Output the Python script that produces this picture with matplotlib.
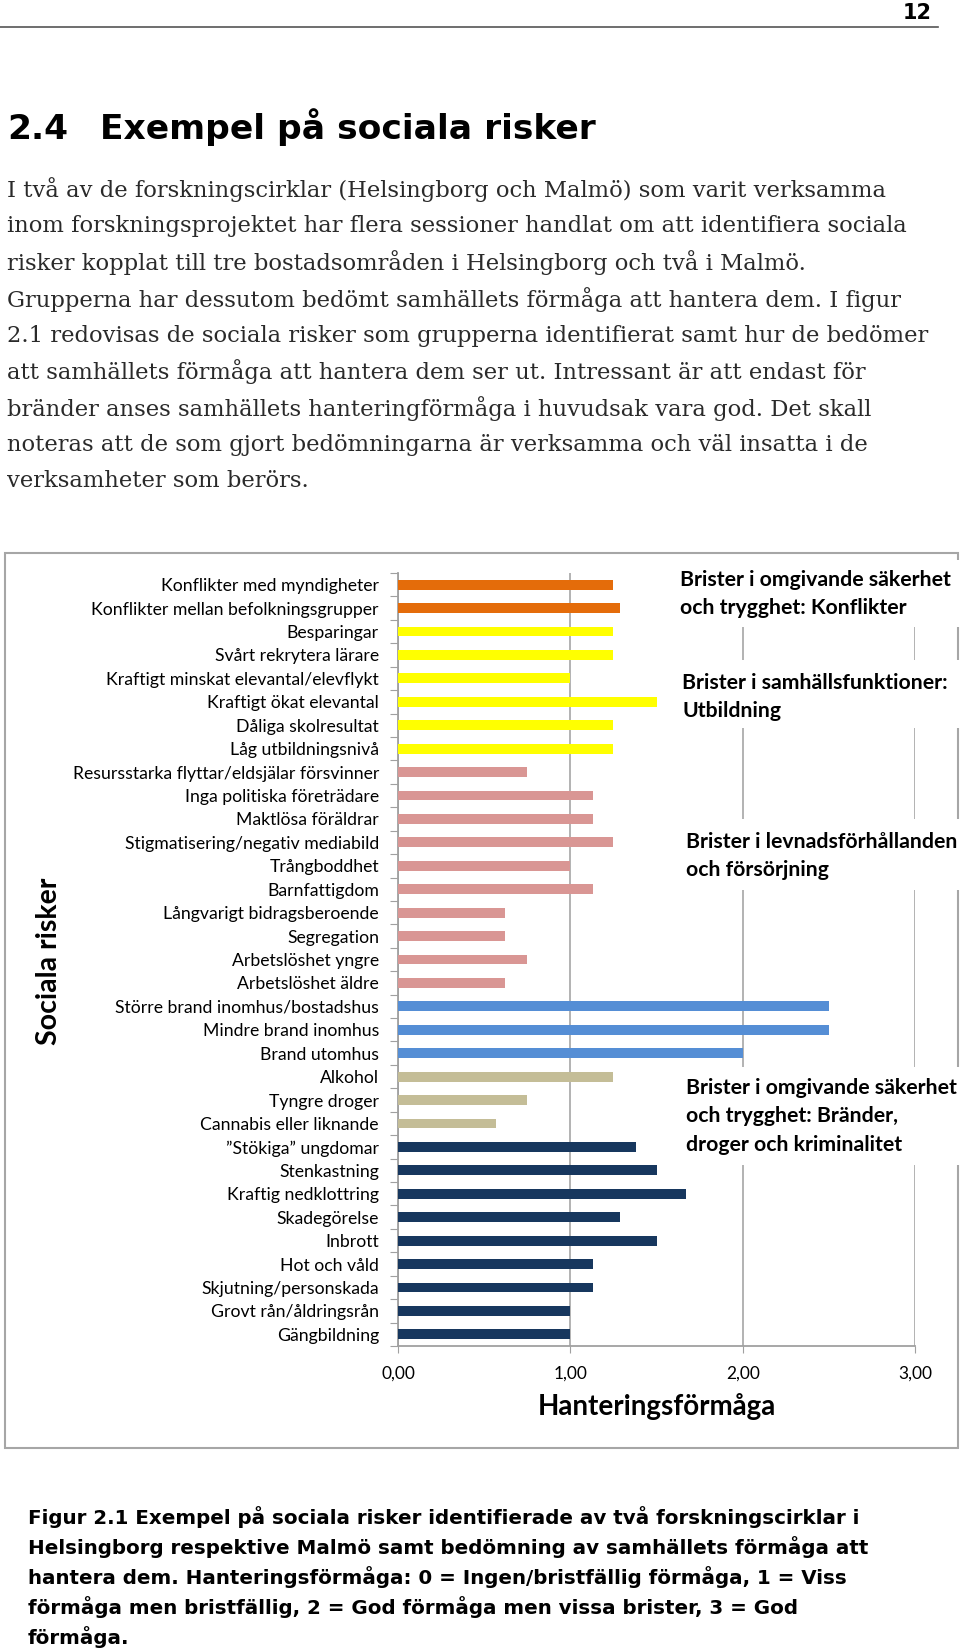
import matplotlib
matplotlib.use("Agg")
import matplotlib.pyplot as plt
from matplotlib.patches import Rectangle
from matplotlib.lines import Line2D
import numpy as np

# ---------------- data ----------------
categories = [
    "Konflikter med myndigheter",
    "Konflikter mellan befolkningsgrupper",
    "Besparingar",
    "Svårt rekrytera lärare",
    "Kraftigt minskat elevantal/elevflykt",
    "Kraftigt ökat elevantal",
    "Dåliga skolresultat",
    "Låg utbildningsnivå",
    "Resursstarka flyttar/eldsjälar försvinner",
    "Inga politiska företrädare",
    "Maktlösa föräldrar",
    "Stigmatisering/negativ mediabild",
    "Trångboddhet",
    "Barnfattigdom",
    "Långvarigt bidragsberoende",
    "Segregation",
    "Arbetslöshet yngre",
    "Arbetslöshet äldre",
    "Större brand inomhus/bostadshus",
    "Mindre brand inomhus",
    "Brand utomhus",
    "Alkohol",
    "Tyngre droger",
    "Cannabis eller liknande",
    "\u201dStökiga\u201d ungdomar",
    "Stenkastning",
    "Kraftig nedklottring",
    "Skadegörelse",
    "Inbrott",
    "Hot och våld",
    "Skjutning/personskada",
    "Grovt rån/åldringsrån",
    "Gängbildning",
]
values = [1.25, 1.29, 1.25, 1.25, 1.00, 1.50, 1.25, 1.25,
          0.75, 1.13, 1.13, 1.25, 1.00, 1.13, 0.62, 0.62, 0.75, 0.62,
          2.50, 2.50, 2.00,
          1.25, 0.75, 0.57,
          1.38, 1.50, 1.67, 1.29, 1.50, 1.13, 1.13, 1.00, 1.00]
groups = (["konflikter"] * 2 + ["utbildning"] * 6 + ["levnad"] * 10 +
          ["brand"] * 3 + ["droger"] * 3 + ["krim"] * 9)
xticks = [0, 1, 2, 3]
xticklabels = ["0,00", "1,00", "2,00", "3,00"]
group_labels = [
    ["Brister i omgivande säkerhet", "och trygghet: Konflikter"],
    ["Brister i samhällsfunktioner:", "Utbildning"],
    ["Brister i levnadsförhållanden", "och försörjning"],
    ["Brister i omgivande säkerhet", "och trygghet: Bränder,", "droger och kriminalitet"],
]
body_lines = [
    "I två av de forskningscirklar (Helsingborg och Malmö) som varit verksamma",
    "inom forskningsprojektet har flera sessioner handlat om att identifiera sociala",
    "risker kopplat till tre bostadsområden i Helsingborg och två i Malmö.",
    "Grupperna har dessutom bedömt samhällets förmåga att hantera dem. I figur",
    "2.1 redovisas de sociala risker som grupperna identifierat samt hur de bedömer",
    "att samhällets förmåga att hantera dem ser ut. Intressant är att endast för",
    "bränder anses samhällets hanteringförmåga i huvudsak vara god. Det skall",
    "noteras att de som gjort bedömningarna är verksamma och väl insatta i de",
    "verksamheter som berörs.",
]
caption_lines = [
    "Figur 2.1 Exempel på sociala risker identifierade av två forskningscirklar i",
    "Helsingborg respektive Malmö samt bedömning av samhällets förmåga att",
    "hantera dem. Hanteringsförmåga: 0 = Ingen/bristfällig förmåga, 1 = Viss",
    "förmåga men bristfällig, 2 = God förmåga men vissa brister, 3 = God",
    "förmåga.",
]

# ---------------- styles ----------------
group_colors = {
    "konflikter": "#E46C0A",
    "utbildning": "#FFFF00",
    "levnad": "#D99694",
    "brand": "#558ED5",
    "droger": "#C4BD97",
    "krim": "#17375E",
}
W, H = 960, 1650
def fx(px):
    return px / W
def fy(py):
    return 1 - py / H

fig = plt.figure(figsize=(9.6, 16.5), dpi=100)
fig.patch.set_facecolor("white")

SANS = ["Lato", "DejaVu Sans"]

# page header
fig.add_artist(Line2D([fx(0), fx(938)], [fy(27), fy(27)], color="#555555", lw=1.2))
fig.text(fx(932), fy(13), "12", ha="right", va="center", fontsize=15,
         fontweight="bold", family=["DejaVu Sans"], color="black")

# heading
fig.text(fx(7), fy(139), "2.4", ha="left", va="baseline", fontsize=24.8,
         fontweight="bold", family=["DejaVu Sans"], color="black")
fig.text(fx(100), fy(139), "Exempel på sociala risker", ha="left", va="baseline",
         fontsize=24.8, fontweight="bold", family=["DejaVu Sans"], color="black")

# body text
for i, line in enumerate(body_lines):
    fig.text(fx(7), fy(190 + i * 36.4), line, ha="left", va="center",
             fontsize=16.3, family=["DejaVu Serif"], color="#2a2a2a")

# chart frame
fig.add_artist(Rectangle((fx(5), fy(1448)), fx(958) - fx(5), (1448 - 553) / H,
                         transform=fig.transFigure, fill=False,
                         edgecolor="#A6A6A6", lw=1.5, zorder=-1))

# axes
ax = fig.add_axes([fx(398), fy(1346), fx(915) - fx(398), (1346 - 573) / H])
ax.set_facecolor("none")
y = np.arange(len(categories))
colors = [group_colors[g] for g in groups]
ax.barh(y, values, height=0.42, color=colors, zorder=3)
ax.set_xlim(0, 3)
ax.set_ylim(len(categories) - 0.5, -0.5)

for s in ["top", "right"]:
    ax.spines[s].set_visible(False)
for s in ["left", "bottom"]:
    ax.spines[s].set_color("#A0A0A0")
    ax.spines[s].set_linewidth(1.3)

ax.set_xticks(xticks)
ax.set_xticklabels(xticklabels, family=SANS, fontsize=12.5)
ax.tick_params(axis="x", direction="out", length=5, color="#A0A0A0", pad=9)
ax.xaxis.grid(True, color="#A6A6A6", lw=1.2, zorder=0)
ax.set_axisbelow(True)

ax.set_yticks(np.arange(-0.5, len(categories), 1.0))
ax.set_yticklabels([])
ax.set_yticks(y, minor=True)
ax.set_yticklabels(categories, minor=True, family=SANS, fontsize=12.7)
ax.tick_params(axis="y", which="major", direction="out", length=6, color="#A0A0A0")
ax.tick_params(axis="y", which="minor", length=0, pad=13.7)

# axis titles
fig.text(fx(657), fy(1407), "Hanteringsförmåga", ha="center", va="center",
         fontsize=20, fontweight="bold", family=SANS, color="black")
fig.text(fx(49), fy(961), "Sociala risker", ha="center", va="center",
         rotation=90, fontsize=20.5, fontweight="bold", family=SANS, color="black")

# group annotation boxes (white boxes covering gridlines)
box_ranges = [(560, 627), (660, 728), (819, 890), (1067, 1165)]
line_y0 = [580, 683, 842, 1088]
text_left = [680, 682, 686, 686]
for (y0, y1), ty, tx, lab in zip(box_ranges, line_y0, text_left, group_labels):
    fig.add_artist(Rectangle((fx(672), fy(y1)), fx(960) - fx(672), (y1 - y0) / H,
                             transform=fig.transFigure, facecolor="white",
                             edgecolor="none", zorder=5))
    for j, ln in enumerate(lab):
        fig.text(fx(tx), fy(ty + j * 28.5), ln, ha="left", va="center",
                 fontsize=15.3, fontweight="bold", family=SANS, color="black",
                 zorder=6)

# caption
for i, line in enumerate(caption_lines):
    fig.text(fx(28), fy(1517 + i * 30), line, ha="left", va="center",
             fontsize=14.3, fontweight="bold", family=["DejaVu Sans"], color="black")

fig.savefig("out.png", dpi=100, facecolor="white")
